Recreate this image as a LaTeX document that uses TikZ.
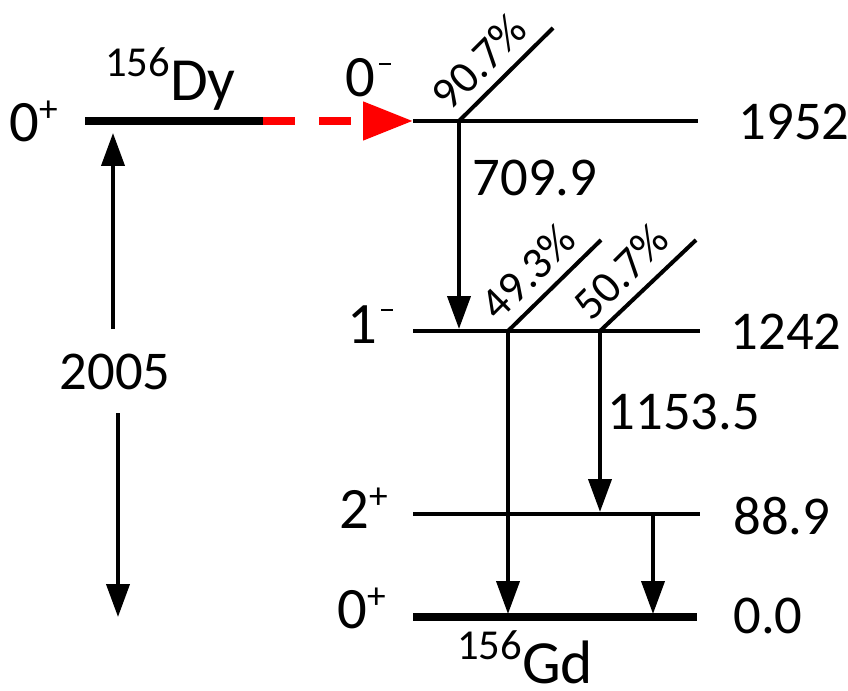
\documentclass[tikz,border=0pt]{standalone}
\usepackage{fontspec}
\setmainfont{Carlito}
\usetikzlibrary{arrows.meta}
\newcommand{\spinplus}[1]{#1\raisebox{15pt}{\fontsize{28}{28}\selectfont +}}
\newcommand{\spinminus}[1]{#1\hspace{3pt}\rule[24pt]{9pt}{1.8pt}}
\newcommand{\nucl}[2]{\raisebox{18pt}{\fontsize{32}{32}\selectfont #1}#2}
\tikzset{
  lev/.style={line width=3pt},
  gnd/.style={line width=6pt},
  feed/.style={line width=3pt},
  trans/.style={line width=3pt, -{Triangle[length=24.75pt,width=17.25pt]}},
  elab/.style={font=\fontsize{41}{41}\selectfont, inner sep=0pt},
  slab/.style={font=\fontsize{44}{44}\selectfont, inner sep=0pt, anchor=base west},
  nlab/.style={font=\fontsize{46}{46}\selectfont, inner sep=0pt, anchor=base west},
  plab/.style={font=\fontsize{34}{34}\selectfont, inner sep=0pt, rotate=45},
}
\begin{document}
\begin{tikzpicture}[x=0.75pt,y=-0.75pt]
\useasboundingbox (0,0) rectangle (848,691);
% level coordinates
\coordinate (dyL) at (85,121);  \coordinate (dyR) at (263,121);
\coordinate (aL) at (413,121);  \coordinate (aR) at (698,121);
\coordinate (bL) at (413,331);  \coordinate (bR) at (700,331);
\coordinate (cL) at (413,514);  \coordinate (cR) at (700,514);
\coordinate (gL) at (413,617);  \coordinate (gR) at (697,617);
% feeding points
\coordinate (fa) at (459,121);  \coordinate (fa2) at (553,28);
\coordinate (fb) at (508,331);  \coordinate (fb2) at (601,240);
\coordinate (fc) at (600,331);  \coordinate (fc2) at (696,240);
% transition end points
\coordinate (t1e) at (459,329);
\coordinate (t2e) at (508,614);
\coordinate (t3e) at (600,512);
\coordinate (t4s) at (653,514); \coordinate (t4e) at (653,614);
\coordinate (qs) at (113,329);  \coordinate (qe) at (113,133);
\coordinate (ds) at (118,413);  \coordinate (de) at (118,617);

% levels
\draw[gnd] (dyL) -- (dyR);
\draw[lev] (aL) -- (aR);
\draw[lev] (bL) -- (bR);
\draw[lev] (cL) -- (cR);
\draw[gnd] (gL) -- (gR);
% decay arrow
\draw[red, line width=6pt, dash pattern=on 24pt off 18pt,
      -{Triangle[length=37.5pt,width=27.75pt]}] (dyR) -- (aL);
% feeding lines
\draw[feed] (fa) -- (fa2);
\draw[feed] (fb) -- (fb2);
\draw[feed] (fc) -- (fc2);
% transitions
\draw[trans] (fa) -- (t1e);
\draw[trans] (fb) -- (t2e);
\draw[trans] (fc) -- (t3e);
\draw[trans] (t4s) -- (t4e);
\draw[trans] (qs) -- (qe);
\draw[trans] (ds) -- (de);

% energy labels
\node[elab] (e1952) at (794,122) {1952};
\node[elab] (e709) at (535,178) {709.9};
\node[elab] (e1242) at (786,332) {1242};
\node[elab] (e1153) at (684,412) {1153.5};
\node[elab] (e889) at (782,516) {88.9};
\node[elab] (e00) at (768,616) {0.0};
\node[elab] (e2005) at (115,372) {2005};

% spin labels
\node[slab] (s0dy) at (9,142) {\spinplus{0}};
\node[slab] (s0m) at (345,97) {\spinminus{0}};
\node[slab] (s1m) at (347,343) {\spinminus{1}};
\node[slab] (s2p) at (339,528) {\spinplus{2}};
\node[slab] (s0p) at (337,628) {\spinplus{0}};

% nuclide labels
\node[nlab] (ndy) at (105,101) {\nucl{156}{Dy}};
\node[nlab] (ngd) at (457,683) {\nucl{156}{Gd}};

% branching labels
\node[plab] (p907) at (479,62) {90.7\%};
\node[plab] (p493) at (528,272) {49.3\%};
\node[plab] (p507) at (621,272) {50.7\%};
\end{tikzpicture}
\end{document}
